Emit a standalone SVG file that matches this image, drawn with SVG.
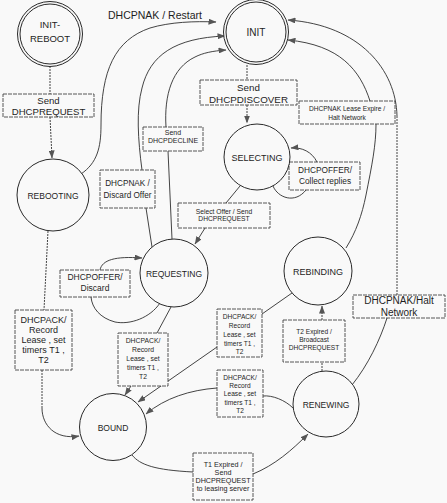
<svg xmlns="http://www.w3.org/2000/svg" width="447" height="503" viewBox="0 0 447 503">
<defs>
<marker id="ah" viewBox="0 0 8 6" refX="7.5" refY="3" markerWidth="8" markerHeight="6" orient="auto" markerUnits="userSpaceOnUse"><path d="M0,0 L8,3 L0,6 Z" fill="#555"/></marker>
</defs>
<style>
.bg{fill:#f9f9f9}
.st circle{fill:#f9f9f9;stroke:#2a2a2a;stroke-width:1}
.st text,.lb text,.tl{font-family:"Liberation Sans",Arial,sans-serif;fill:#1e1e1e;text-anchor:middle}
.e{fill:none;stroke:#2f2f2f;stroke-width:0.9}
.d{stroke-dasharray:2 1}
.lb rect{fill:#f9f9f9;stroke:#444;stroke-width:0.9;stroke-dasharray:4 1}
</style>
<rect class="bg" x="0" y="0" width="447" height="503"/>

<g id="connectors">
  <!-- INIT-REBOOT -> REBOOTING -->
  <path class="e d" d="M50,66 L50,94"/>
  <path class="e d" d="M50,117 L52,158" marker-end="url(#ah)"/>
  <!-- INIT -> SELECTING -->
  <path class="e d" d="M247,65 L247,80"/>
  <path class="e d" d="M247,105 L247,123" marker-end="url(#ah)"/>
  <!-- REBOOTING -> INIT (DHCPNAK / Restart) -->
  <path class="e" d="M81,174 C97,163 101,148 101,125 C101,70 115,40 150,28 C170,22 195,21 216,22" marker-end="url(#ah)"/>
  <!-- REQUESTING -> INIT (DHCPNAK / Discard Offer) -->
  <path class="e" d="M152,247 L146,208"/>
  <path class="e" d="M142,170 C138,140 136,110 142,88 C150,55 175,38 225,36" marker-end="url(#ah)"/>
  <!-- REQUESTING -> INIT (Send DHCPDECLINE) -->
  <path class="e" d="M172,239 L168,151"/>
  <path class="e" d="M166,127 C164,95 172,68 195,57 C203,53 212,51 226,50" marker-end="url(#ah)"/>
  <!-- RENEWING -> INIT (DHCPNAK/Halt Network) -->
  <path class="e" d="M387,318 C380,340 368,365 352,385"/>
  <path class="e d" d="M397,295 L397,115"/>
  <path class="e" d="M397,116 C396,70 360,25 288,20" marker-end="url(#ah)"/>
  <!-- REBINDING -> INIT (DHCPNAK Lease Expire / Halt Network) -->
  <path class="e" d="M346,248 C356,232 362,215 366,195 C372,165 376,145 376,124"/>
  <path class="e" d="M370,101 C360,70 340,45 288,40" marker-end="url(#ah)"/>
  <!-- SELECTING self loop -->
  <path class="e" d="M317,162 C312,152 302,147 291,148" marker-end="url(#ah)"/>
  <path class="e" d="M273,186 C278,198 295,204 306,190"/>
  <!-- SELECTING -> REQUESTING -->
  <path class="e" d="M240,186 L226,203"/>
  <path class="e" d="M205,228 L195,244" marker-end="url(#ah)"/>
  <!-- REQUESTING self loop -->
  <path class="e" d="M160,303 C150,318 130,325 115,322 C100,318 92,308 91,297"/>
  <path class="e" d="M100,270 C102,260 115,256 142,258" marker-end="url(#ah)"/>
  <!-- REQUESTING -> BOUND -->
  <path class="e" d="M171,307 L157,333"/>
  <path class="e" d="M131,386 L125,395" marker-end="url(#ah)"/>
  <!-- REBINDING -> BOUND -->
  <path class="e" d="M292,293 L262,314"/>
  <path class="e" d="M217,347 L138,402" marker-end="url(#ah)"/>
  <!-- RENEWING -> BOUND -->
  <path class="e" d="M293,408 C285,400 272,395 263,396"/>
  <path class="e" d="M217,388 C190,390 165,398 146,414" marker-end="url(#ah)"/>
  <!-- BOUND -> RENEWING -->
  <path class="e" d="M132,455 C140,465 155,470 193,472"/>
  <path class="e" d="M253,474 C275,465 292,450 308,434" marker-end="url(#ah)"/>
  <!-- RENEWING -> REBINDING -->
  <path class="e d" d="M322,371 L322,362"/>
  <path class="e d" d="M322,320 L322,306" marker-end="url(#ah)"/>
  <!-- REBOOTING -> BOUND -->
  <path class="e d" d="M48,231 L44,310"/>
  <path class="e d" d="M42,370 L42,408"/>
  <path class="e" d="M42,408 C42,425 55,440 79,436" marker-end="url(#ah)"/>
</g>

<text class="tl" x="155" y="19" font-size="10.5">DHCPNAK / Restart</text>

<g id="edge-labels">
  <g class="lb" font-size="9.6"><rect x="3" y="94" width="91" height="23"/><text x="48.5" y="104">Send</text><text x="48.5" y="115">DHCPREQUEST</text></g>
  <g class="lb" font-size="9.8"><rect x="200" y="80" width="97" height="25"/><text x="248.5" y="90.5">Send</text><text x="248.5" y="102.5">DHCPDISCOVER</text></g>
  <g class="lb" font-size="6.6"><rect x="299" y="101" width="96" height="23"/><text x="347" y="110.5">DHCPNAK Lease Expire /</text><text x="347" y="119.5">Halt Network</text></g>
  <g class="lb" font-size="7"><rect x="143" y="127" width="60" height="24"/><text x="173" y="134.5">Send</text><text x="173" y="142.5">DHCPDECLINE</text></g>
  <g class="lb" font-size="8.2"><rect x="100" y="170" width="55" height="38"/><text x="127.5" y="186">DHCPNAK /</text><text x="127.5" y="198">Discard Offer</text></g>
  <g class="lb" font-size="8.3"><rect x="289" y="162" width="71" height="28"/><text x="325" y="173">DHCPOFFER/</text><text x="325" y="184">Collect replies</text></g>
  <g class="lb" font-size="6.7"><rect x="178" y="203" width="92" height="25"/><text x="224" y="213.5">Select Offer / Send</text><text x="224" y="221">DHCPREQUEST</text></g>
  <g class="lb" font-size="8.5"><rect x="60" y="270" width="70" height="27"/><text x="95" y="280">DHCPOFFER/</text><text x="95" y="291">Discard</text></g>
  <g class="lb" font-size="9"><rect x="15" y="310" width="57" height="60"/><text x="43.5" y="323">DHCPACK/</text><text x="43.5" y="333">Record</text><text x="43.5" y="343">Lease , set</text><text x="43.5" y="353">timers T1 ,</text><text x="43.5" y="363">T2</text></g>
  <g class="lb" font-size="6.8"><rect x="118" y="333" width="50" height="53"/><text x="143" y="343">DHCPACK/</text><text x="143" y="352">Record</text><text x="143" y="361">Lease , set</text><text x="143" y="370">timers T1 ,</text><text x="143" y="379">T2</text></g>
  <g class="lb" font-size="6.6"><rect x="217" y="309" width="45" height="48"/><text x="239.5" y="318.5">DHCPACK/</text><text x="239.5" y="327.5">Record</text><text x="239.5" y="336.5">Lease , set</text><text x="239.5" y="345.5">timers T1 ,</text><text x="239.5" y="353.5">T2</text></g>
  <g class="lb" font-size="6.6"><rect x="283" y="320" width="62" height="42"/><text x="314" y="334">T2 Expired /</text><text x="314" y="342">Broadcast</text><text x="314" y="350">DHCPREQUEST</text></g>
  <g class="lb" font-size="10"><rect x="353" y="295" width="92" height="23"/><text x="399" y="304">DHCPNAK/Halt</text><text x="399" y="316">Network</text></g>
  <g class="lb" font-size="6.6"><rect x="217" y="370" width="46" height="47"/><text x="240" y="379.5">DHCPACK/</text><text x="240" y="387.5">Record</text><text x="240" y="396">Lease , set</text><text x="240" y="404.5">timers T1 ,</text><text x="240" y="412.5">T2</text></g>
  <g class="lb" font-size="7.2"><rect x="193" y="453" width="60" height="47"/><text x="223" y="467">T1 Expired /</text><text x="223" y="475">Send</text><text x="223" y="483">DHCPREQUEST</text><text x="223" y="491">to leasing server</text></g>
</g>

<g id="init-reboot" class="st"><circle cx="50" cy="34" r="32.5"/><circle cx="50" cy="34" r="30" style="fill:none"/><text x="50" y="28" font-size="9.5">INIT-</text><text x="50" y="42" font-size="9.5">REBOOT</text></g>
<g id="init" class="st"><circle cx="256" cy="32" r="32.5"/><circle cx="256" cy="32" r="30" style="fill:none"/><text x="256" y="36" font-size="10">INIT</text></g>
<g id="rebooting" class="st"><circle cx="53" cy="195" r="36"/><text x="53" y="199" font-size="8.5">REBOOTING</text></g>
<g id="selecting" class="st"><circle cx="257" cy="157" r="33"/><text x="257" y="161" font-size="9">SELECTING</text></g>
<g id="requesting" class="st"><circle cx="174" cy="273" r="34"/><text x="174" y="277" font-size="8.5">REQUESTING</text></g>
<g id="rebinding" class="st"><circle cx="318" cy="271" r="34"/><text x="318" y="275" font-size="9">REBINDING</text></g>
<g id="renewing" class="st"><circle cx="326" cy="404" r="33"/><text x="326" y="408" font-size="8.5">RENEWING</text></g>
<g id="bound" class="st"><circle cx="113" cy="427" r="33.5"/><text x="113" y="431" font-size="8.5">BOUND</text></g>
</svg>
